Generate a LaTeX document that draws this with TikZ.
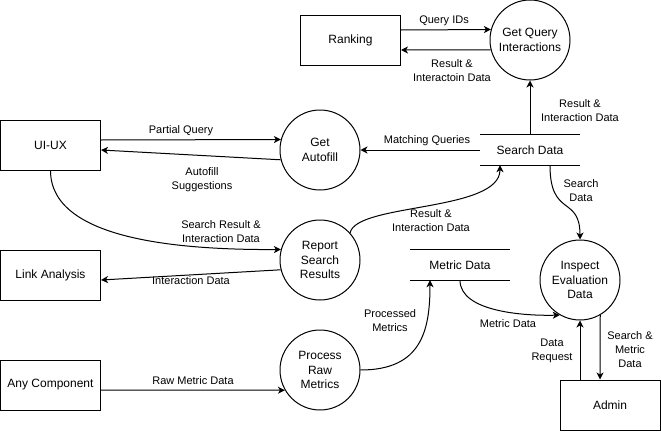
\documentclass[tikz,border=0pt]{standalone}
\usepackage{fontspec}
\setmainfont{Liberation Sans}
\usetikzlibrary{arrows.meta}
\tikzset{
  every picture/.style={x=1pt,y=-1pt},
  lw/.style={line width=1pt},
  boxnode/.style={draw,lw,rectangle,minimum width=100pt,minimum height=50pt,inner sep=0pt,font=\fontsize{12}{14.5}\selectfont},
  procnode/.style={draw,lw,circle,minimum size=80pt,inner sep=0pt,align=center,font=\fontsize{12}{14.5}\selectfont},
  storenode/.style={rectangle,minimum width=100pt,minimum height=30pt,inner sep=0pt,font=\fontsize{12}{14.5}\selectfont},
  storeline/.style={lw},
  flow/.style={lw,-{Stealth[length=7pt,width=7pt,inset=2pt]}},
  lbl/.style={align=center,inner sep=0pt,font=\fontsize{11}{14}\selectfont}
}
\begin{document}
\begin{tikzpicture}
\useasboundingbox (0,0) rectangle (661,431);
% nodes
\node[boxnode] (rank) at (350.5,40) {Ranking};
\node[procnode] (gqi) at (530,40) {Get Query\\Interactions};
\node[boxnode] (uiux) at (50.5,145) {UI-UX};
\node[procnode] (ga) at (320,150) {Get\\Autofill};
\node[storenode] (sd) at (530,150) {Search Data};
\node[procnode] (rsr) at (320,260) {Report\\Search\\Results};
\node[boxnode] (la) at (50.5,275) {Link Analysis};
\node[storenode] (md) at (460,265) {Metric Data};
\node[procnode] (ied) at (580,280) {Inspect\\Evaluation\\Data};
\node[procnode] (prm) at (320,370) {Process\\Raw\\Metrics};
\node[boxnode] (ac) at (50.5,385) {Any Component};
\node[boxnode] (admin) at (610,405) {Admin};
% data store lines
\draw[storeline] (sd.north west) -- (sd.north east);
\draw[storeline] (sd.south west) -- (sd.south east);
\draw[storeline] (md.north west) -- (md.north east);
\draw[storeline] (md.south west) -- (md.south east);
% flows
\draw[flow] ([yshift=10pt]rank.east) -- (gqi.165.5);
\draw[flow] (gqi.194.5) -- ([yshift=-10pt]rank.east);
\draw[flow] (sd.north) -- (gqi.south);
\draw[flow] (sd.west) -- (ga.east);
\draw[flow] ([yshift=5pt]uiux.east) -- (ga.165.5);
\draw[flow] (ga.194.5) -- ([yshift=-5pt]uiux.east);
\draw[flow] (uiux.south) .. controls (50.5,240) and (180,250) .. (rsr.165.5);
\draw[flow] (rsr.194.5) -- ([yshift=-5pt]la.east);
\draw[flow] (rsr.42) .. controls (356,203) and (500,212) .. ([xshift=-30pt]sd.south);
\draw[flow] ([xshift=20pt]sd.south) .. controls (550,218) and (580,195) .. (ied.north);
\draw[flow] (md.south) .. controls (460,312) and (525,316) .. (ied.240);
\draw[flow] (prm.east) .. controls (422,370) and (430,330) .. ([xshift=-30pt]md.south);
\draw[flow] ([yshift=-5pt]ac.east) -- (prm.210);
\draw[flow] ([xshift=-30pt]admin.north) -- (ied.south);
\draw[flow] (ied.300) -- ([xshift=-10pt]admin.north);
% labels
\node[lbl] (l1) at (444,21) {Query IDs};
\node[lbl] (l2) at (452,71) {Result \&\\Interactoin Data};
\node[lbl] (l3) at (580,111) {Result \&\\Interaction Data};
\node[lbl] (l4) at (427,141) {Matching Queries};
\node[lbl] (l5) at (181,131) {Partial Query};
\node[lbl] (l6) at (202,180) {Autofill\\Suggestions};
\node[lbl] (l7) at (221,232) {Search Result \&\\Interaction Data};
\node[lbl] (l8) at (191,281) {Interaction Data};
\node[lbl] (l9) at (431,221) {Result \&\\Interaction Data};
\node[lbl] (l10) at (581,191) {Search\\Data};
\node[lbl] (l11) at (508,324) {Metric Data};
\node[lbl] (l12) at (390,321) {Processed\\Metrics};
\node[lbl] (l13) at (193,381) {Raw Metric Data};
\node[lbl] (l14) at (552,351) {Data\\Request};
\node[lbl] (l15) at (630,350) {Search \&\\Metric\\Data};
\end{tikzpicture}
\end{document}
